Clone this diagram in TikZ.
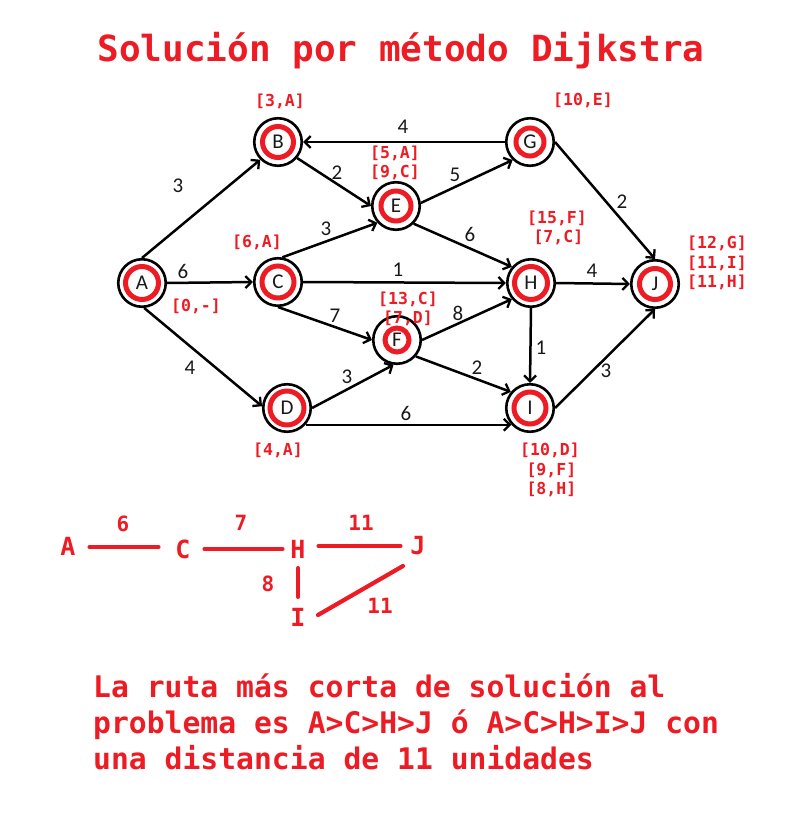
\documentclass[tikz,border=0pt]{standalone}
\usepackage{fontspec}
\setmainfont{Carlito}
\newfontfamily\rmono{DejaVu Sans Mono}
\usetikzlibrary{arrows.meta,calc}
\definecolor{rd}{HTML}{ED1C24}
\begin{document}
\begin{tikzpicture}[x=1pt,y=-1pt,
 vtx/.style={circle,draw,line width=2.6pt,minimum size=47.5pt,inner sep=0pt,fill=white},
 ring/.style={draw=rd,line width=5pt},
 edge/.style={line width=2.5pt,-{Straight Barb[length=6pt,width=12pt,line width=2.3pt]}},
 wt/.style={inner sep=0pt,text=black!90,font=\fontsize{21}{21}\selectfont},
 lab/.style={inner sep=0pt,text=rd,align=center,font=\rmono\bfseries\fontsize{16.5}{19.5}\selectfont},
 big/.style={inner sep=0pt,outer sep=0pt,text=rd,font=\rmono\bfseries\fontsize{25}{25}\selectfont},
 bw/.style={inner sep=0pt,text=rd,font=\rmono\bfseries\fontsize{21}{21}\selectfont},
 rline/.style={draw=rd,line width=4.2pt,line cap=round},
 txt/.style={anchor=base west,inner sep=0pt,text=rd,font=\rmono\bfseries\fontsize{29.7}{36}\selectfont}]
\useasboundingbox (0,0) rectangle (794,824);
% title
\node[inner sep=0pt,anchor=base,text=rd,font=\rmono\bfseries\fontsize{36}{36}\selectfont] (title) at (401,62) {Solución por método Dijkstra};
% vertices
\foreach \n/\x/\y/\r in {A/142/283/16.5,B/278/142/15.5,C/278/282/16,D/287/408/17,E/396/206/15,F/397/340/12,G/530/142/14,H/531/283/16.5,I/530/408/16,J/655/284/15.5}{
  \node[vtx] (\n) at (\x,\y) {};
  \draw[ring] (\n.center) circle (\r);
  \node[inner sep=0pt,font=\fontsize{21}{21}\selectfont,text=black!90] (t\n) at (\n.center) {\n};
}
% edges
\draw[edge] (A.90) -- (B.225);
\draw[edge] (A.east) -- (C.west);
\draw[edge] (A.-85) -- (D.176);
\draw[edge] (B.-40) -- (E.180);
\draw[edge] (G.west) -- (B.east);
\draw[edge] (C.80) -- (E.-138);
\draw[edge] (C.east) -- (H.west);
\draw[edge] (C.-90) -- (F.180);
\draw[edge] (E.7) -- (G.-134);
\draw[edge] (E.-45) -- (H.140);
\draw[edge] (D.0) -- (F.-98);
\draw[edge] (D.-42) -- (I.-138);
\draw[edge] (F.0) -- (H.-140);
\draw[edge] (F.-41) -- (I.140);
\draw[edge] (H.-90) -- (I.90);
\draw[edge] (G.0) -- (J.90);
\draw[edge] (H.0) -- (J.180);
\draw[edge] (I.0) -- (J.-90);
% weights
\node[wt] (wAB) at (178,186) {3};
\node[wt] (wAC) at (183,271) {6};
\node[wt] (wAD) at (190,368) {4};
\node[wt] (wBE) at (337,173) {2};
\node[wt] (wCE) at (326,229) {3};
\node[wt] (wGB) at (403,127) {4};
\node[wt] (wEG) at (455,175) {5};
\node[wt] (wEH) at (470,234) {6};
\node[wt] (wCH) at (398,270) {1};
\node[wt] (wCF) at (335,316) {7};
\node[wt] (wFH) at (458,313) {8};
\node[wt] (wDF) at (347,377) {3};
\node[wt] (wFI) at (477,368) {2};
\node[wt] (wDI) at (406,413) {6};
\node[wt] (wHI) at (541,348) {1};
\node[wt] (wIJ) at (606,371) {3};
\node[wt] (wHJ) at (592,271) {4};
\node[wt] (wGJ) at (622,202) {2};
% labels
\node[lab] (lB) at (280,101) {[3,A]};
\node[lab] (lG) at (583,100) {[10,E]};
\node[lab] (lE) at (395,163) {[5,A]\\{}[9,C]};
\node[lab] (lC) at (257,242) {[6,A]};
\node[lab] (lA) at (196,306) {[0,-]};
\node[lab] (lH) at (557,228) {[15,F]\\{}\,[7,C]};
\node[lab] (lJ) at (717,263) {[12,G]\\{}[11,I]\\{}[11,H]};
\node[lab] (lF) at (408,309) {[13,C]\\{}[7,D]};
\node[lab] (lD) at (278,450) {[4,A]};
\node[lab] (lI) at (550,470) {[10,D]\\{}\,[9,F]\\{}\,[8,H]};
% shortest path summary
\node[big] (a2) at (68,546) {A};
\node[big] (c2) at (183,549) {C};
\node[big] (h2) at (298,549) {H};
\node[big] (j2) at (418,546) {J};
\node[big] (i2) at (298,617) {I};
\draw[rline,shorten <=14pt,shorten >=17pt] (a2.east |- 0,547) -- (c2.west |- 0,547);
\draw[rline,shorten <=14pt,shorten >=8pt] (c2.east) -- (h2.west);
\draw[rline,shorten <=13pt,shorten >=10pt] (h2.east |- 0,546) -- (j2.west |- 0,546);
\draw[rline,shorten <=10pt,shorten >=11pt] (h2.south) -- (i2.north);
\draw[rline] ([shift={(20,-2)}]i2.center) -- ([shift={(-15,20)}]j2.center);
\node[bw] (w1) at (123,524) {6};
\node[bw] (w2) at (241,523) {7};
\node[bw] (w3) at (361,523) {11};
\node[bw] (w4) at (268,584) {8};
\node[bw] (w5) at (380,606) {11};
% conclusion
\node[txt] (l1) at (93,697) {La ruta más corta de solución al};
\node[txt] (l2) at (93,733) {problema es A>C>H>J ó A>C>H>I>J con};
\node[txt] (l3) at (93,769) {una distancia de 11 unidades};
\end{tikzpicture}
\end{document}
